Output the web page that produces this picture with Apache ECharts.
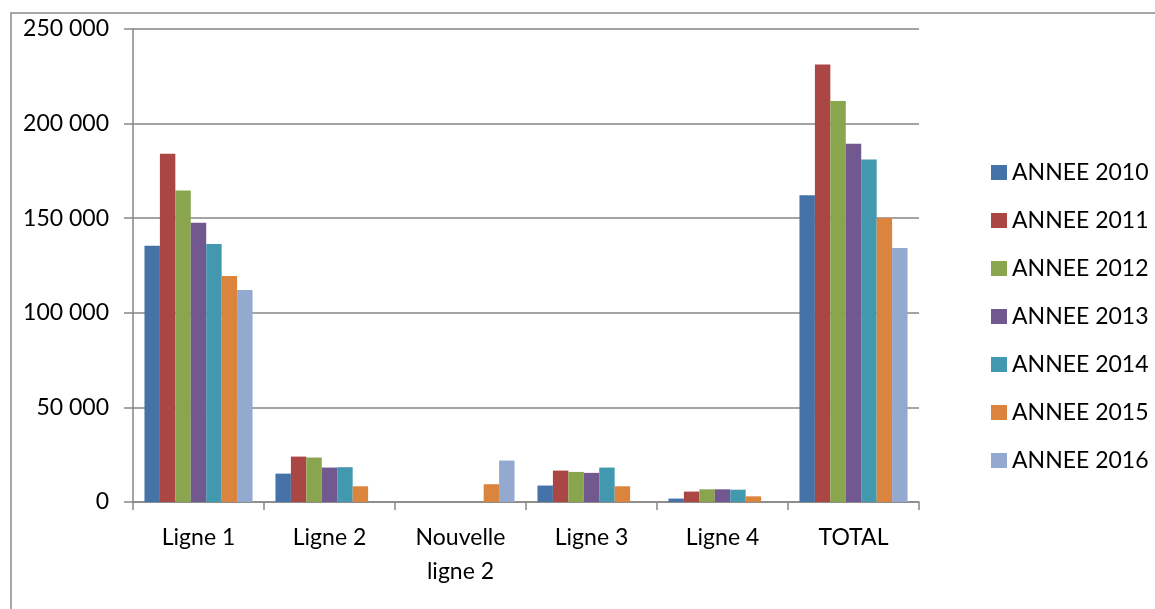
<!DOCTYPE html>
<html>
<head>
<meta charset="utf-8">
<script src="https://cdn.jsdelivr.net/npm/echarts@6/dist/echarts.min.js"></script>
<style>
html,body{margin:0;padding:0;background:#fff;}
#chart{width:1155px;height:609px;}
</style>
</head>
<body>
<div id="chart"></div>
<script>
const categories = ['Ligne 1', 'Ligne 2', 'Nouvelle\nligne 2', 'Ligne 3', 'Ligne 4', 'TOTAL'];
const seriesNames = ['ANNEE 2010', 'ANNEE 2011', 'ANNEE 2012', 'ANNEE 2013', 'ANNEE 2014', 'ANNEE 2015', 'ANNEE 2016'];
const annee2010 = [135400, 15000, 0, 8700, 1800, 162100];
const annee2011 = [184000, 24000, 0, 16600, 5500, 231300];
const annee2012 = [164700, 23500, 0, 15900, 6700, 211900];
const annee2013 = [147600, 18200, 0, 15400, 6700, 189300];
const annee2014 = [136300, 18400, 0, 18200, 6500, 181000];
const annee2015 = [119500, 8300, 9400, 8300, 3000, 150100];
const annee2016 = [112100, 0, 21900, 0, 0, 134200];
const colors = ['#4572A7', '#AA4643', '#89A54E', '#71588F', '#4198AF', '#DB843D', '#93A9CF'];
const allSeries = [annee2010, annee2011, annee2012, annee2013, annee2014, annee2015, annee2016];

const FONT = 'Lato';
const chart = echarts.init(document.getElementById('chart'), null, {renderer: 'canvas'});
chart.setOption({
  animation: false,
  backgroundColor: '#fff',
  textStyle: {fontFamily: FONT},
  graphic: [{
    type: 'rect',
    shape: {x: 11, y: 13, width: 1300, height: 800},
    style: {fill: 'none', stroke: '#8a8a8a', lineWidth: 1.5},
    silent: true
  }],
  grid: {left: 133, right: 236, top: 29, bottom: 107, containLabel: false},
  legend: {
    orient: 'vertical',
    left: 986,
    top: 156,
    itemWidth: 16,
    itemHeight: 15,
    itemGap: 25,
    icon: 'rect',
    textStyle: {fontFamily: FONT, fontSize: 23, color: '#000', padding: [0, 0, 0, 0], lineHeight: 23},
    data: seriesNames
  },
  xAxis: {
    type: 'category',
    data: categories,
    axisLine: {lineStyle: {color: '#868686', width: 1.5}},
    axisTick: {show: true, length: 8, alignWithLabel: false, lineStyle: {color: '#868686', width: 1.5}},
    axisLabel: {fontFamily: FONT, fontSize: 23, color: '#000', margin: 19, lineHeight: 34, interval: 0}
  },
  yAxis: {
    type: 'value',
    min: 0, max: 250000, interval: 50000,
    axisLine: {show: true, lineStyle: {color: '#868686', width: 1.5}},
    axisTick: {show: true, length: 9, inside: false, lineStyle: {color: '#868686', width: 1.5}},
    splitLine: {lineStyle: {color: '#868686', width: 1.5}},
    axisLabel: {
      fontFamily: FONT, fontSize: 23, color: '#000', margin: 24,
      formatter: function (v) { return v === 0 ? '0' : String(v).replace(/\B(?=(\d{3})+(?!\d))/g, ' '); }
    }
  },
  series: allSeries.map((d, i) => ({
    name: seriesNames[i],
    type: 'bar',
    data: d,
    barGap: '0%',
    barCategoryGap: '17.5%',
    itemStyle: {color: colors[i]}
  }))
});
</script>
</body>
</html>
